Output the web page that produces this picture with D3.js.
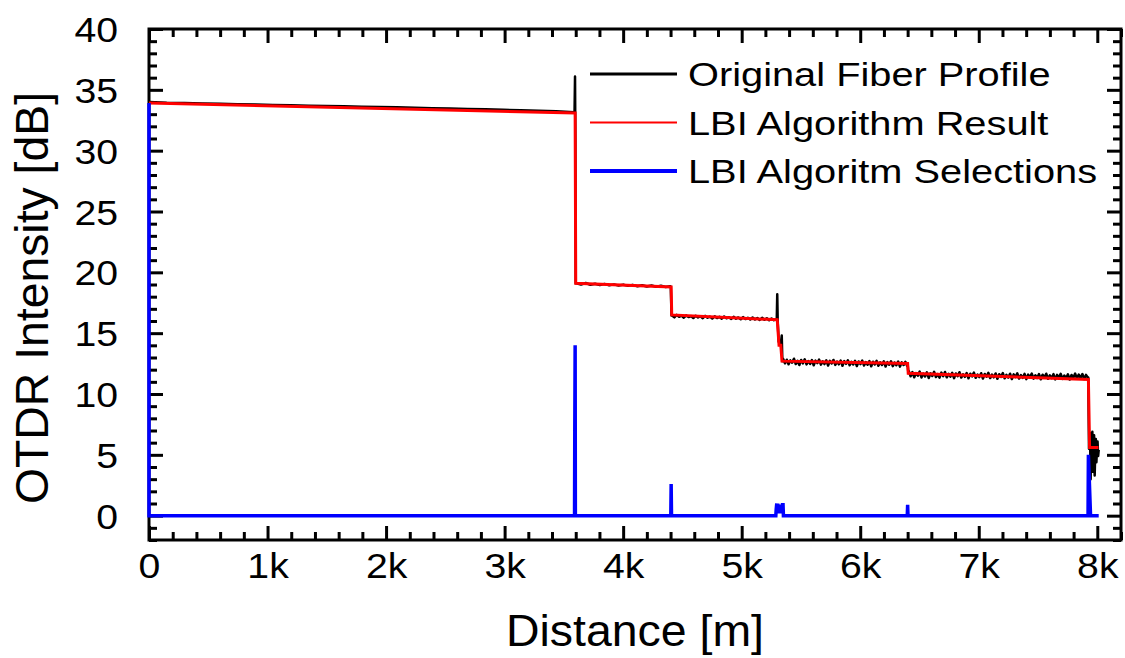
<!DOCTYPE html>
<html>
<head>
<meta charset="utf-8">
<script src="https://cdn.jsdelivr.net/npm/d3@7"></script>
<style>
  html, body { margin: 0; padding: 0; background: #fff; }
  svg { display: block; font-family: "Liberation Sans", Arial, sans-serif; }
</style>
</head>
<body>
<div id="chart"></div>
<script>
// ---- data ----
// original fiber profile, split in sections: [start m, end m] + values spread evenly
var prof1Range = [0, 3585];
var prof1 = [34.00, 33.93, 33.91, 33.88, 33.85, 33.82, 33.80, 33.76, 33.74, 33.70, 33.67, 33.65,
  33.61, 33.58, 33.56, 33.52, 33.49, 33.46, 33.43, 33.40, 33.36, 33.33, 33.29, 33.23, 33.15];
var prof2Range = [3605, 4398];
var prof2 = [19.10, 19.00, 19.12, 18.98, 19.06, 18.95, 19.05, 18.93, 19.01, 18.91, 18.99, 18.89,
  18.97, 18.86, 18.94, 18.84, 18.92, 18.82, 18.89, 18.80, 18.85];
var prof3Range = [4412, 5292];
var prof3 = [16.45, 16.30, 16.50, 16.35, 16.44, 16.27, 16.46, 16.32, 16.41, 16.25, 16.43, 16.29,
  16.39, 16.23, 16.42, 16.27, 16.36, 16.21, 16.38, 16.24, 16.35, 16.19, 16.37, 16.22, 16.31, 16.17,
  16.34, 16.19, 16.29, 16.14, 16.32, 16.16, 16.27, 16.12, 16.29, 16.13, 16.24, 16.09, 16.26, 16.10,
  16.22, 16.06, 16.20, 16.07, 16.15];
var prof4Range = [5350, 6396];
var prof4 = [12.88, 12.52, 12.82, 12.44, 12.76, 12.58, 12.90, 12.46, 12.72, 12.38, 12.80, 12.52,
  12.85, 12.43, 12.71, 12.48, 12.78, 12.36, 12.74, 12.54, 12.83, 12.41, 12.68, 12.46, 12.76, 12.34,
  12.72, 12.51, 12.80, 12.39, 12.66, 12.44, 12.74, 12.32, 12.70, 12.48, 12.77, 12.36, 12.64, 12.42,
  12.72, 12.30, 12.67, 12.46, 12.74, 12.34, 12.62, 12.40, 12.70, 12.28, 12.65, 12.43, 12.72, 12.32,
  12.60, 12.38, 12.68, 12.26, 12.62, 12.41, 12.69, 12.29, 12.58, 12.36, 12.66, 12.25, 12.60, 12.38,
  12.64, 12.31];
var prof5Range = [6410, 7920];
var prof5 = [11.88, 11.46, 11.80, 11.38, 11.72, 11.51, 11.84, 11.36, 11.68, 11.44, 11.78, 11.32,
  11.70, 11.48, 11.82, 11.40, 11.64, 11.34, 11.76, 11.46, 11.81, 11.37, 11.66, 11.43, 11.74, 11.30,
  11.69, 11.47, 11.79, 11.35, 11.62, 11.41, 11.72, 11.29, 11.67, 11.45, 11.76, 11.33, 11.60, 11.39,
  11.71, 11.27, 11.65, 11.43, 11.74, 11.31, 11.59, 11.37, 11.69, 11.25, 11.63, 11.41, 11.72, 11.29,
  11.57, 11.35, 11.67, 11.23, 11.61, 11.39, 11.70, 11.27, 11.55, 11.33, 11.65, 11.22, 11.59, 11.37,
  11.68, 11.26, 11.54, 11.32, 11.64, 11.21, 11.58, 11.36, 11.67, 11.25, 11.53, 11.31, 11.63, 11.20,
  11.57, 11.35, 11.66, 11.24, 11.52, 11.30, 11.62, 11.19, 11.56, 11.34, 11.68, 11.26, 11.60, 11.32,
  11.64, 11.23, 11.57, 11.36];
var prof6Range = [7934, 8012];
var prof6 = [5.5, 6.8, 3.0, 6.5, 4.2, 6.9, 3.6, 5.9, 6.6, 3.3, 5.2, 6.3, 4.4, 5.6, 6.1, 4.9, 5.4];
// events (reflection peaks and drops) of the raw profile: [distance, dB]
var profEvents = [[3590, 33.12], [3594, 36.1], [3597, 31.0], [3600, 19.1],
  [4402, 18.82], [4408, 16.45],
  [5296, 16.12], [5300, 18.2], [5304, 16.0], [5312, 14.3], [5330, 14.1], [5338, 14.8], [5343, 12.7],
  [6400, 12.45], [6405, 11.85],
  [7924, 11.35], [7930, 5.5]];

// LBI algorithm result (step fit)
var lbiResult = [[0, 33.92], [3595, 33.1], [3600, 19.1], [4405, 18.8], [4410, 16.5], [5300, 16.1],
  [5315, 14.0], [5330, 14.0], [5340, 12.7], [6400, 12.5], [6405, 11.7], [7925, 11.2],
  [7935, 5.6], [8010, 5.6]];

// LBI algorithm selections
var lbiSelections = [[0, 33.92], [0, 0], [3590, 0], [3592, 7.0], [3595, 14.0], [3597, 0],
  [4402, 0], [4405, 2.6], [4408, 0],
  [5288, 0], [5291, 0.5], [5296, 1.0], [5300, 0.2], [5304, 1.0], [5308, 0.2], [5312, 0.9],
  [5318, 0.2], [5322, 0.9], [5328, 0.2], [5334, 0.9], [5340, 0.2], [5344, 0.9], [5349, 0.9], [5352, 0],
  [6397, 0], [6400, 0.9], [6403, 0],
  [7922, 0], [7925, 5.0], [7943, 0], [8012, 0]];

var xMajor = [0, 1000, 2000, 3000, 4000, 5000, 6000, 7000, 8000];
var yMajor = [0, 5, 10, 15, 20, 25, 30, 35, 40];
var legendNames = ['Original Fiber Profile', 'LBI Algorithm Result', 'LBI Algoritm Selections'];

// ---- layout ----
var W = 1125, H = 658;
var plotLeft = 149, plotRight = 1121, plotTop = 29, plotBottom = 540;

var svg = d3.select('#chart').append('svg').attr('width', W).attr('height', H);

var x = d3.scaleLinear().domain([0, 8200]).range([plotLeft, plotRight]);
var y = d3.scaleLinear().domain([-2, 40]).range([plotBottom, plotTop]);

// the picture is a bit wider than tall, so glyphs get stretched sideways
function widen(sel, k) {
  sel.each(function () {
    var len = this.getComputedTextLength();
    d3.select(this).attr('textLength', len * k).attr('lengthAdjust', 'spacingAndGlyphs');
  });
}

function spread(range, vals) {
  var n = vals.length;
  return vals.map(function (v, i) { return [range[0] + (range[1] - range[0]) * i / (n - 1), v]; });
}

var profile = [].concat(
  spread(prof1Range, prof1), spread(prof2Range, prof2), spread(prof3Range, prof3),
  spread(prof4Range, prof4), spread(prof5Range, prof5), spread(prof6Range, prof6),
  profEvents).sort(function (a, b) { return a[0] - b[0]; });

// ---- axes (ticks inward on all four sides) ----
var xMinor = d3.range(0, 8201, 200).filter(function (d) { return d % 1000 !== 0; });
var yMinor = d3.range(-2, 41, 1).filter(function (d) { return d % 5 !== 0; });
var fmtX = function (d) { return d === 0 ? '0' : (d / 1000) + 'k'; };

function styleAxis(g) {
  g.select('.domain').remove();
  g.selectAll('.tick line').attr('stroke', '#000').attr('stroke-width', 3);
}

svg.append('g').attr('transform', 'translate(0,' + plotBottom + ')')
  .call(d3.axisBottom(x).tickValues(xMajor).tickSize(-14).tickFormat(fmtX).tickPadding(38))
  .call(styleAxis)
  .call(function (g) {
    g.selectAll('text').attr('font-size', 35).attr('fill', '#000')
      .attr('font-family', '"Liberation Sans", Arial, sans-serif').attr('dy', 0);
    widen(g.selectAll('text'), 1.12);
  });
svg.append('g').attr('transform', 'translate(0,' + plotBottom + ')')
  .call(d3.axisBottom(x).tickValues(xMinor).tickSize(-8).tickFormat(''))
  .call(styleAxis);
svg.append('g').attr('transform', 'translate(0,' + plotTop + ')')
  .call(d3.axisTop(x).tickValues(xMajor).tickSize(-14).tickFormat(''))
  .call(styleAxis);
svg.append('g').attr('transform', 'translate(0,' + plotTop + ')')
  .call(d3.axisTop(x).tickValues(xMinor).tickSize(-8).tickFormat(''))
  .call(styleAxis);

svg.append('g').attr('transform', 'translate(' + plotLeft + ',0)')
  .call(d3.axisLeft(y).tickValues(yMajor).tickSize(-14).tickPadding(31))
  .call(styleAxis)
  .call(function (g) {
    g.selectAll('text').attr('font-size', 35).attr('fill', '#000')
      .attr('font-family', '"Liberation Sans", Arial, sans-serif').attr('dy', '0.36em');
    widen(g.selectAll('text'), 1.12);
  });
svg.append('g').attr('transform', 'translate(' + plotLeft + ',0)')
  .call(d3.axisLeft(y).tickValues(yMinor).tickSize(-8).tickFormat(''))
  .call(styleAxis);
svg.append('g').attr('transform', 'translate(' + plotRight + ',0)')
  .call(d3.axisRight(y).tickValues(yMajor).tickSize(-14).tickFormat(''))
  .call(styleAxis);
svg.append('g').attr('transform', 'translate(' + plotRight + ',0)')
  .call(d3.axisRight(y).tickValues(yMinor).tickSize(-8).tickFormat(''))
  .call(styleAxis);

svg.append('rect')
  .attr('x', plotLeft).attr('y', plotTop)
  .attr('width', plotRight - plotLeft).attr('height', plotBottom - plotTop)
  .attr('fill', 'none').attr('stroke', '#000').attr('stroke-width', 3);

// ---- lines ----
var line = d3.line().x(function (d) { return x(d[0]); }).y(function (d) { return y(d[1]); });

svg.append('path').datum(profile).attr('d', line)
  .attr('fill', 'none').attr('stroke', '#000').attr('stroke-width', 2.5).attr('stroke-linejoin', 'round');
svg.append('path').datum(lbiResult).attr('d', line)
  .attr('fill', 'none').attr('stroke', '#ff0000').attr('stroke-width', 3);
svg.append('path').datum(lbiSelections).attr('d', line)
  .attr('fill', 'none').attr('stroke', '#0000ff').attr('stroke-width', 3.5);

// ---- legend ----
var legColors = ['#000', '#ff0000', '#0000ff'];
var legWidths = [3, 2, 4];
var leg = svg.append('g');
legendNames.forEach(function (name, i) {
  var ly = 74 + i * 48.5;
  leg.append('line').attr('x1', 590).attr('x2', 677).attr('y1', ly).attr('y2', ly)
    .attr('stroke', legColors[i]).attr('stroke-width', legWidths[i]);
  var t = leg.append('text').attr('x', 688).attr('y', ly + 12)
    .attr('font-size', 34).attr('fill', '#000').text(name);
  widen(t, 1.17);
});

// ---- axis titles ----
svg.append('text').attr('x', 635).attr('y', 646).attr('text-anchor', 'middle')
  .attr('font-size', 44).attr('fill', '#000').text('Distance [m]')
  .attr('textLength', 258).attr('lengthAdjust', 'spacingAndGlyphs');

svg.append('text')
  .attr('transform', 'translate(48,298) rotate(-90)')
  .attr('text-anchor', 'middle').attr('font-size', 47).attr('fill', '#000')
  .text('OTDR Intensity [dB]')
  .attr('textLength', 412).attr('lengthAdjust', 'spacingAndGlyphs');
</script>
</body>
</html>
